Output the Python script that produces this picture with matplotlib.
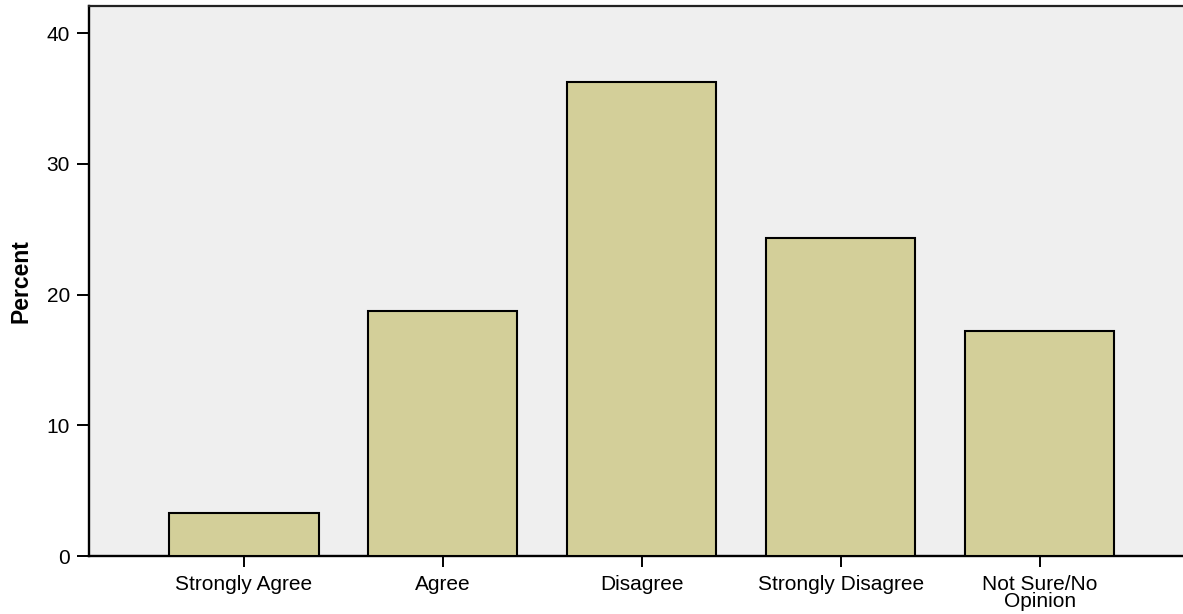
import matplotlib
matplotlib.use("Agg")
import matplotlib.pyplot as plt

categories = ["Strongly Agree", "Agree", "Disagree", "Strongly Disagree", "Not Sure/No\nOpinion"]
percent = [3.31, 18.76, 36.25, 24.3, 17.2]
yticks = [0, 10, 20, 30, 40]

plt.rcParams['font.family'] = ['Liberation Sans', 'DejaVu Sans']

W, H = 1183, 614
fig = plt.figure(figsize=(W / 100, H / 100), dpi=100)
left, right, top, bottom = 88.5, 1183, 6, 556
ax = fig.add_axes([left / W, (H - bottom) / H, (right - left) / W, (bottom - top) / H])
ax.set_facecolor('#efefef')

x = list(range(len(categories)))
ax.bar(x, percent, width=0.75, color='#d3cf99', edgecolor='black', linewidth=1.5, zorder=3)

ax.set_xlim(-0.781, 4.72)
ax.set_ylim(0, 42.07)
ax.set_yticks(yticks)
ax.set_yticklabels([str(v) for v in yticks])
ax.set_xticks(x)
ax.set_xticklabels(categories, linespacing=0.85)

ax.tick_params(axis='x', length=8, width=1.4, pad=6, labelsize=15, colors='black')
ax.tick_params(axis='y', length=9, width=1.4, pad=4.5, labelsize=15, colors='black')

for s in ['left', 'bottom']:
    ax.spines[s].set_linewidth(1.7)
    ax.spines[s].set_color('black')
ax.spines['top'].set_linewidth(1.6)
ax.spines['top'].set_color('#222222')
ax.spines['right'].set_visible(False)

ax.set_ylabel('Percent', fontsize=16.5, fontweight='bold', labelpad=10)

fig.savefig('out.png', dpi=100)
